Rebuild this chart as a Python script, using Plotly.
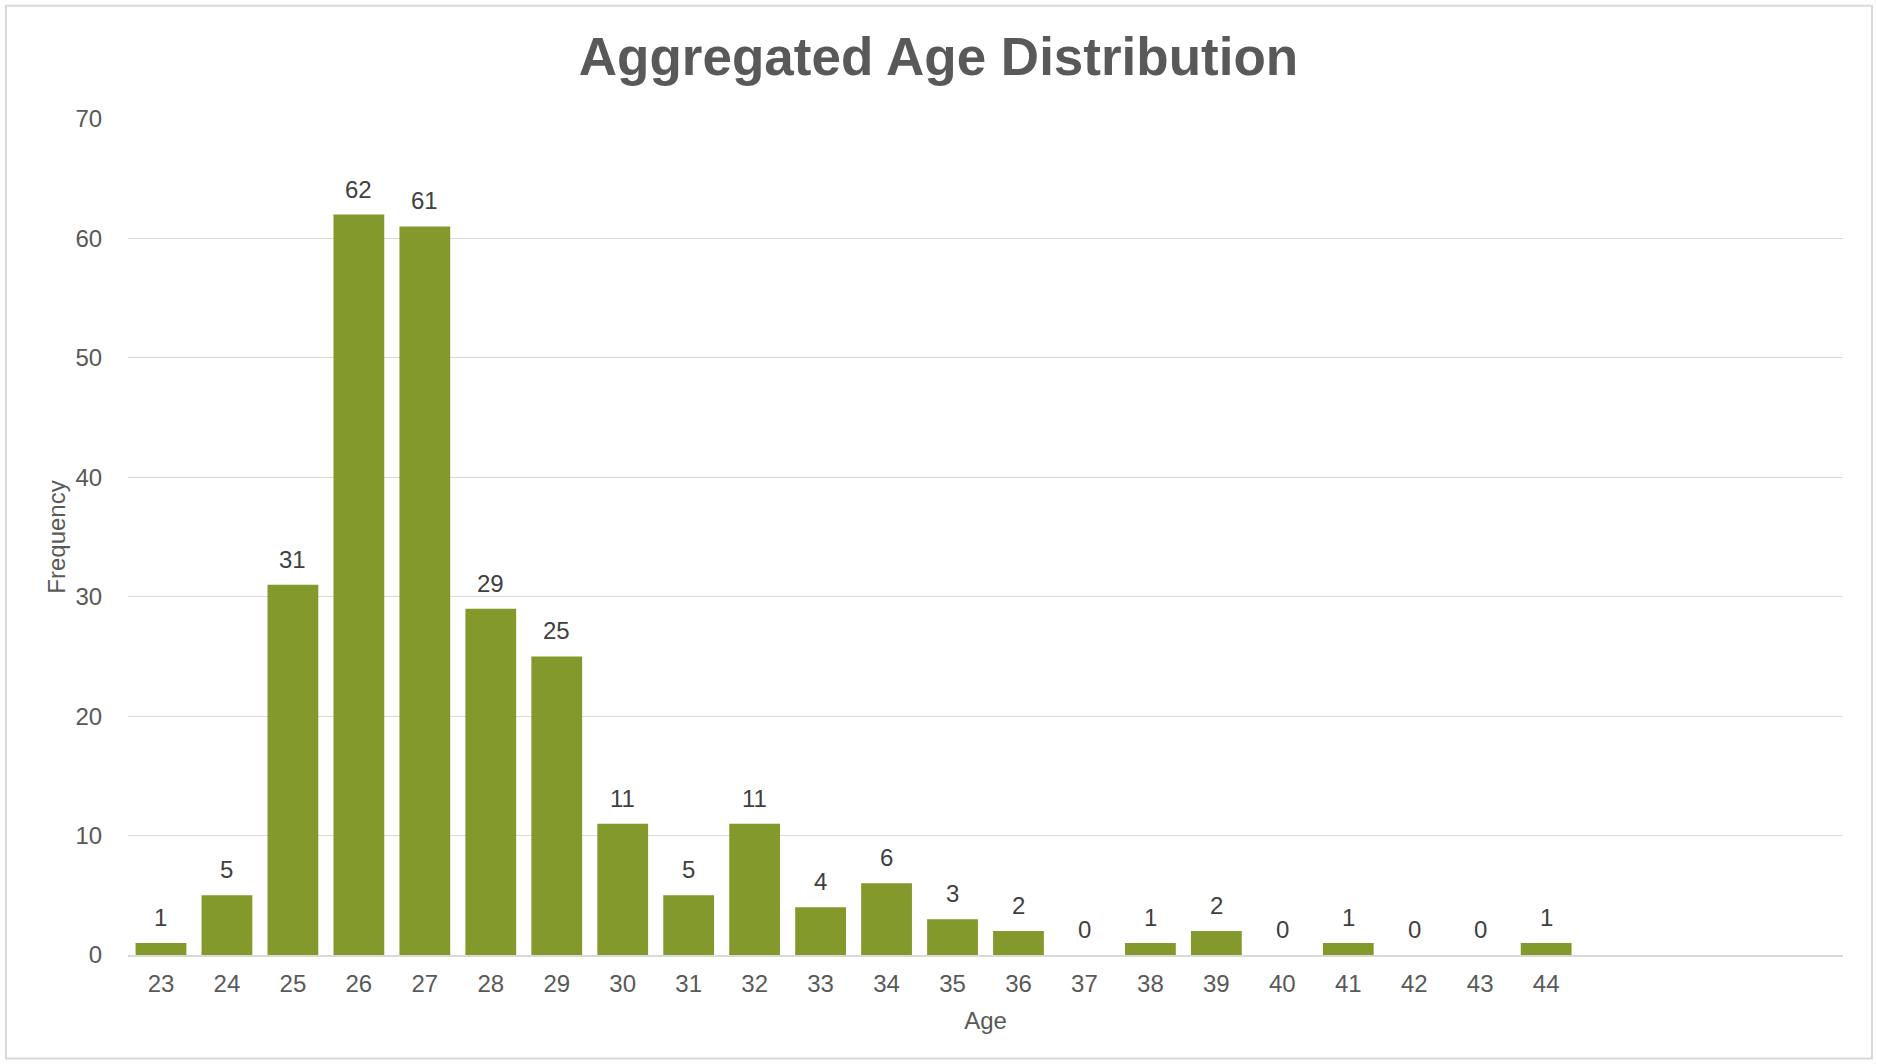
import plotly.graph_objects as go

# Age categories (the axis reserves four trailing empty slots after 44)
ages = [str(a) for a in range(23, 45)]
frequency = [1, 5, 31, 62, 61, 29, 25, 11, 5, 11, 4, 6, 3, 2, 0, 1, 2, 0, 1, 0, 0, 1]
y_ticks = [0, 10, 20, 30, 40, 50, 60, 70]

W, H = 1877, 1064
ML, MR, MT, MB = 128, 34, 118.5, 108.5
FONT = "Liberation Sans, Arial, sans-serif"
BAR = "#84992C"
GRID = "#D9D9D9"
TXT = "#595959"

fig = go.Figure()
fig.add_trace(go.Bar(
    x=ages, y=frequency,
    marker=dict(color=BAR, line=dict(width=0)),
    hoverinfo="x+y",
))

# value labels above each bar (including zero-height ones); x given as category index
for i, v in enumerate(frequency):
    fig.add_annotation(
        x=i, y=v, text=str(v), showarrow=False,
        yanchor="bottom", yshift=10,
        font=dict(family=FONT, size=24, color="#404040"),
    )

pw = W - ML - MR
ph = H - MT - MB
# chart frame
fig.add_shape(
    type="rect", xref="paper", yref="paper",
    x0=(6 - ML) / pw, x1=(1872 - ML) / pw,
    y0=(H - MB - 1059) / ph,
    y1=(H - MB - 5) / ph,
    line=dict(color=GRID, width=2), layer="below",
)

fig.update_layout(
    width=W, height=H,
    margin=dict(l=ML, r=MR, t=MT, b=MB),
    paper_bgcolor="white", plot_bgcolor="white",
    bargap=0.23,
    showlegend=False,
    title=dict(
        text="<b>Aggregated Age Distribution</b>",
        x=0.5, xref="container", xanchor="center",
        y=1 - 56 / H, yref="container", yanchor="middle",
        font=dict(family=FONT, size=53, color=TXT),
    ),
    xaxis=dict(
        type="category",
        range=[-0.5, 25.5],
        showgrid=False,
        showline=True, linecolor=GRID, linewidth=1.5,
        ticks="outside", ticklen=6, tickcolor="rgba(0,0,0,0)",
        tickfont=dict(family=FONT, size=24, color=TXT),
        title=dict(text="Age", font=dict(family=FONT, size=24, color=TXT), standoff=17),
        fixedrange=True,
    ),
    yaxis=dict(
        range=[0, 70],
        tickvals=y_ticks,
        showgrid=True, gridcolor=GRID, gridwidth=1.3,
        zeroline=False, showline=False,
        ticks="outside", ticklen=20, tickcolor="rgba(0,0,0,0)",
        tickfont=dict(family=FONT, size=24, color=TXT),
        title=dict(text="Frequency", font=dict(family=FONT, size=24, color=TXT), standoff=3),
        fixedrange=True,
    ),
)

fig.write_html("out.html", config={"displayModeBar": False})
